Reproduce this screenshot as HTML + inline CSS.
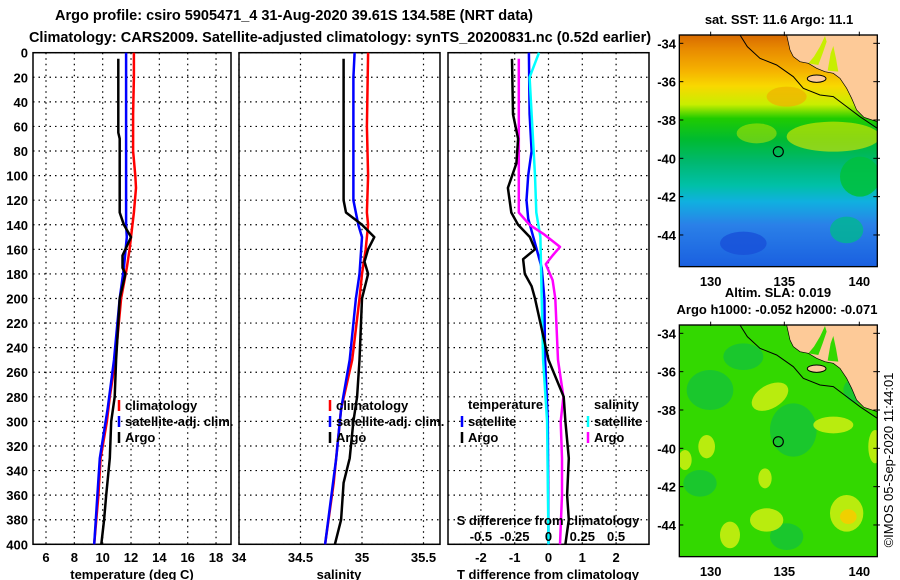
<!DOCTYPE html>
<html><head><meta charset="utf-8"><style>
body{margin:0;background:#fff;}
svg{display:block;font-family:"Liberation Sans",sans-serif;font-weight:bold;}
</style></head><body>
<svg id="fig" width="900" height="580" viewBox="0 0 900 580" xmlns="http://www.w3.org/2000/svg">
<text x="294" y="20" font-size="14.5" text-anchor="middle">Argo profile: csiro 5905471_4 31-Aug-2020 39.61S 134.58E (NRT data)</text>
<text x="340" y="42" font-size="14.5" text-anchor="middle">Climatology: CARS2009. Satellite-adjusted climatology: synTS_20200831.nc (0.52d earlier)</text>
<g id="panels"></g>
<g id="maps"></g>
<text transform="translate(893,460) rotate(-90)" font-size="13" font-weight="normal" text-anchor="middle">©IMOS 05-Sep-2020 11:44:01</text>
</svg>
<script>
// ---------- data ----------
const tempClimDepth=[0,20,50,80,100,110,130,150,160,175,200,250,280,300,330,360,400];
const tempClim=[12.2,12.2,12.15,12.15,12.3,12.35,12.2,12.0,11.9,11.7,11.3,10.9,10.5,10.3,9.85,9.7,9.4];
const tempSatDepth=[0,140,150,175,200,250,290,330,400];
const tempSat=[11.65,11.65,11.7,11.5,11.2,10.8,10.35,9.8,9.4];
const tempArgoDepth=[5,65,70,130,140,150,160,165,175,180,200,250,280,300,330,360,380,400];
const tempArgo=[11.1,11.1,11.2,11.2,11.5,12.0,11.6,11.4,11.4,11.6,11.2,10.95,10.85,10.6,10.5,10.25,10.1,9.9];

const salClimDepth=[0,60,100,130,140,160,180,200,250,290,350,400];
const salClim=[35.05,35.04,35.05,35.04,35.05,35.03,35.0,34.98,34.92,34.83,34.77,34.70];
const salSatDepth=[0,20,120,140,150,180,200,250,290,330,400];
const salSat=[34.94,34.93,34.93,34.97,35.0,34.98,34.95,34.9,34.83,34.79,34.70];
const salArgoDepth=[5,120,130,140,150,160,170,180,200,250,280,300,330,350,380,400];
const salArgo=[34.85,34.85,34.87,35.0,35.1,35.05,35.02,35.05,35.0,34.98,34.96,34.93,34.9,34.85,34.83,34.78];

const dTSatDepth=[0,50,80,100,120,135,150,160,175,200,250,280,300,400];
const dTSat=[-0.58,-0.56,-0.5,-0.6,-0.65,-0.6,-0.45,-0.35,-0.2,-0.12,-0.1,-0.05,-0.02,0.0];
const dTArgoDepth=[5,50,70,90,110,130,140,150,160,168,180,190,200,250,280,300,330,360,380,400];
const dTArgo=[-1.08,-1.05,-0.9,-0.95,-1.2,-1.1,-0.9,-0.55,-0.4,-0.75,-0.7,-0.5,-0.4,0.0,0.45,0.5,0.6,0.55,0.6,0.5];
const dSSatDepth=[0,20,60,100,130,150,200,250,300,400];
const dSSat=[-0.07,-0.14,-0.12,-0.10,-0.09,-0.06,-0.05,-0.04,-0.01,0.0];
const dSArgoDepth=[5,130,140,148,158,165,172,185,200,250,280,300,330,360,400];
const dSArgo=[-0.22,-0.22,-0.14,-0.03,0.085,0.03,-0.02,0.03,0.05,0.07,0.11,0.09,0.10,0.10,0.085];

const depthTicks=[0,20,40,60,80,100,120,140,160,180,200,220,240,260,280,300,320,340,360,380,400];
const tempTicks=[6,8,10,12,14,16,18];
const salTicks=[34,34.5,35,35.5];
const dTTicks=[-2,-1,0,1,2];
const dSTicks=[-0.5,-0.25,0,0.25,0.5];
const dSTickLabels=["-0.5","-0.25","0","0.25","0.5"];

// ---------- helpers ----------
const NS="http://www.w3.org/2000/svg";
function mk(tag,attrs,parent,txt){const e=document.createElementNS(NS,tag);for(const k in attrs)e.setAttribute(k,attrs[k]);if(txt!==undefined)e.textContent=txt;parent.appendChild(e);return e;}
const TOP=52.7, BOT=544.3;
const yD=d=>TOP+d*(BOT-TOP)/400;
const xT=t=>46+(t-6)*14.17;
const xS=s=>239+(s-34)*123;
const xDT=t=>548.5+t*33.8;
const xDS=s=>548.5+s*4*33.8;
const P=document.getElementById('panels');

function panel(name,x0,x1,gridXs){
  const g=mk('g',{},P);
  
  
  gridXs.forEach(x=>{const l=mk('line',{x1:x,x2:x,y1:TOP,y2:BOT,stroke:'#000','stroke-width':1.2,'stroke-dasharray':'1.5,4'},g);
    });
  depthTicks.forEach(d=>{const l=mk('line',{x1:x0,x2:x1,y1:yD(d),y2:yD(d),stroke:'#000','stroke-width':1.2,'stroke-dasharray':'1.5,4'},g);
    });
  const r=mk('rect',{x:x0,y:TOP,width:x1-x0,height:BOT-TOP,fill:'none',stroke:'#000','stroke-width':1.5},g);
  
  return g;
}
function line(g,ds,vs,fx,color,name,w){
  const pts=ds.map((d,i)=>fx(vs[i]).toFixed(1)+','+yD(d).toFixed(1)).join(' ');
  const l=mk('polyline',{points:pts,fill:'none',stroke:color,'stroke-width':w||2.5,'stroke-linejoin':'round'},g);
  
  
}
function txt(g,x,y,s,name,anchor,size){
  const t=mk('text',{x:x,y:y,'font-size':size||13,'text-anchor':anchor||'start'},g,s);
  
  
  return t;
}
function legend(g,x,y,color,label){
  const m=mk('line',{x1:x,x2:x,y1:y-11,y2:y,stroke:color,'stroke-width':2.5},g);
  
  
  if(label)txt(g,x+6,y-1,label,'legend-entry');
}

// temperature panel
const g1=panel('temperature-panel',33,231,tempTicks.map(xT));
line(g1,tempClimDepth,tempClim,xT,'#ff0000','temp-climatology-line');
line(g1,tempSatDepth,tempSat,xT,'#0000ff','temp-satellite-line');
line(g1,tempArgoDepth,tempArgo,xT,'#000','temp-argo-line');
depthTicks.forEach(d=>txt(g1,28,yD(d)+5,String(d),'depth-tick-label','end'));
tempTicks.forEach(t=>txt(g1,xT(t),562,String(t),'temp-tick-label','middle'));
txt(g1,132,579,'temperature (deg C)','x-axis-title-temperature','middle');
legend(g1,119,411,'#ff0000','climatology');
legend(g1,119,427,'#0000ff','satellite-adj. clim.');
legend(g1,119,443,'#000','Argo');

// salinity panel
const g2=panel('salinity-panel',239,440,salTicks.map(xS));
line(g2,salClimDepth,salClim,xS,'#ff0000','sal-climatology-line');
line(g2,salSatDepth,salSat,xS,'#0000ff','sal-satellite-line');
line(g2,salArgoDepth,salArgo,xS,'#000','sal-argo-line');
salTicks.forEach(s=>txt(g2,xS(s),562,String(s),'salinity-tick-label','middle'));
txt(g2,339,579,'salinity','x-axis-title-salinity','middle');
legend(g2,330,411,'#ff0000','climatology');
legend(g2,330,427,'#0000ff','satellite-adj. clim.');
legend(g2,330,443,'#000','Argo');

// difference panel
const g3=panel('difference-panel',448,649,dTTicks.map(xDT));
line(g3,dTSatDepth,dTSat,xDT,'#0000ff','dT-satellite-line');
line(g3,dSSatDepth,dSSat,xDS,'#00ffff','dS-satellite-line');
line(g3,dSArgoDepth,dSArgo,xDS,'#ff00ff','dS-argo-line');
line(g3,dTArgoDepth,dTArgo,xDT,'#000','dT-argo-line');
dTTicks.forEach(t=>txt(g3,xDT(t),562,String(t),'dT-tick-label','middle'));
dSTicks.forEach((s,i)=>txt(g3,xDS(s),541,dSTickLabels[i],'dS-tick-label','middle'));
txt(g3,548,525,'S difference from climatology','dS-axis-title','middle');
txt(g3,548,579,'T difference from climatology','x-axis-title-difference','middle');
txt(g3,468,409,'temperature','legend-header-temperature');
txt(g3,594,409,'salinity','legend-header-salinity');
legend(g3,462,427,'#0000ff','satellite');
legend(g3,462,443,'#000','Argo');
legend(g3,588,427,'#00ffff','satellite');
legend(g3,588,443,'#ff00ff','Argo');

// ---------- maps ----------
const M=document.getElementById('maps');
const latTicks=["-34","-36","-38","-40","-42","-44"], latY=[130,245,360,475,590,705];
const lonTicks=["130","135","140"], lonX=[152,373,598];
const land="380,105 652,105 652,365 612,352 590,330 575,295 560,265 540,235 520,220 495,215 470,205 445,190 420,185 400,170 390,150";
const gulf1="445,190 462,170 480,140 495,108 500,125 488,160 475,195";
const gulf2="503,212 512,160 520,138 528,175 535,215";
const coast="240,105 262,140 300,175 350,195 400,230 430,265 480,285 520,290 560,320 600,350 652,385";
function map(name,oy,kind){
  const g=mk('g',{transform:`translate(660,${oy}) scale(0.3333)`},M);
  
  
  const defs=mk('defs',{},g);
  const cid='clip'+kind;
  const cp=mk('clipPath',{id:cid},defs);mk('rect',{x:58,y:105,width:594,height:695},cp);
  const inner=mk('g',{'clip-path':`url(#${cid})`},g);
  let gulfFill;
  if(kind==='sst'){
    gulfFill='#c8ee00';
    const lg=mk('linearGradient',{id:'sstg',x1:0,y1:0,x2:0,y2:1},defs);
    [[0,'#d86a00'],[0.06,'#e88a00'],[0.15,'#f5b000'],[0.22,'#f8d800'],[0.3,'#c8ee00'],[0.36,'#20cc00'],[0.45,'#00bb30'],[0.55,'#00b870'],[0.65,'#00c0a8'],[0.72,'#10b0e0'],[0.82,'#2a80e8'],[1,'#1a60e0']].forEach(s=>mk('stop',{offset:s[0],'stop-color':s[1]},lg));
    mk('rect',{x:58,y:105,width:594,height:695,fill:'url(#sstg)'},inner);
    mk('ellipse',{cx:520,cy:410,rx:140,ry:45,fill:'#e8ea00',opacity:0.6},inner);
    mk('ellipse',{cx:290,cy:400,rx:60,ry:30,fill:'#c8e800',opacity:0.5},inner);
    mk('ellipse',{cx:600,cy:530,rx:60,ry:60,fill:'#00c040',opacity:0.9},inner);
    mk('ellipse',{cx:250,cy:730,rx:70,ry:35,fill:'#1850d8',opacity:0.8},inner);
    mk('ellipse',{cx:560,cy:690,rx:50,ry:40,fill:'#00b890',opacity:0.8},inner);
    mk('ellipse',{cx:380,cy:290,rx:60,ry:30,fill:'#f0b000',opacity:0.7},inner);
  } else {
    gulfFill='#33d800';
    mk('rect',{x:58,y:105,width:594,height:695,fill:'#33d800'},inner);
    [[150,300,70,60],[400,420,70,80],[120,580,50,40],[380,740,50,40],[600,300,50,40],[250,200,60,40]].forEach(b=>mk('ellipse',{cx:b[0],cy:b[1],rx:b[2],ry:b[3],fill:'#10c040',opacity:0.7},inner));
    [[330,320,60,35,-30],[560,670,50,55,0],[320,690,50,35,0],[520,405,60,25,0],[645,470,20,50,0],[315,565,20,30,0],[210,735,30,40,0],[75,510,20,30,0],[140,470,25,35,0]].forEach(b=>mk('ellipse',{cx:b[0],cy:b[1],rx:b[2],ry:b[3],fill:'#c8ee10',opacity:0.9,transform:`rotate(${b[4]} ${b[0]} ${b[1]})`},inner));
    mk('ellipse',{cx:565,cy:680,rx:25,ry:22,fill:'#f0d000'},inner);
  }
  const ld=mk('polygon',{points:land,fill:'#fdca98'},inner);
  
  mk('polygon',{points:gulf1,fill:gulfFill},inner);
  mk('polygon',{points:gulf2,fill:gulfFill},inner);
  mk('ellipse',{cx:470,cy:236,rx:28,ry:11,fill:'#fdca98',stroke:'#000','stroke-width':3},inner);
  const cl=mk('polyline',{points:coast,fill:'none',stroke:'#000','stroke-width':3},inner);
  
  mk('polyline',{points:"380,105 390,150 400,170 420,185 445,190 470,205 495,215 520,220 540,235 560,265 575,295 590,330 612,352 652,365",fill:'none',stroke:'#000','stroke-width':2},inner);
  mk('rect',{x:58,y:105,width:594,height:695,fill:'none',stroke:'#000','stroke-width':4},g);
  const c=mk('circle',{cx:355,cy:455,r:15,fill:'none',stroke:'#000','stroke-width':3.5},g);
  
  latTicks.forEach((t,i)=>{mk('line',{x1:58,x2:70,y1:latY[i],y2:latY[i],stroke:'#000','stroke-width':3},g);mk('line',{x1:640,x2:660,y1:latY[i],y2:latY[i],stroke:'#000','stroke-width':3},g);
    const tx=mk('text',{x:48,y:latY[i]+15,'font-size':39,'text-anchor':'end'},g,t);});
  lonTicks.forEach((t,i)=>{mk('line',{x1:lonX[i],x2:lonX[i],y1:95,y2:108,stroke:'#000','stroke-width':3},g);
    const tx=mk('text',{x:lonX[i],y:858,'font-size':39,'text-anchor':'middle'},g,t);});
}
map('sst-map',0,'sst');
map('sla-map',290,'sla');
txt(M,779,24,'sat. SST: 11.6 Argo: 11.1','sst-map-title','middle');
txt(M,778,297,'Altim. SLA: 0.019','sla-value-label','middle');
txt(M,777,314,'Argo h1000: -0.052 h2000: -0.071','sla-map-title','middle');
</script>
</body></html>
